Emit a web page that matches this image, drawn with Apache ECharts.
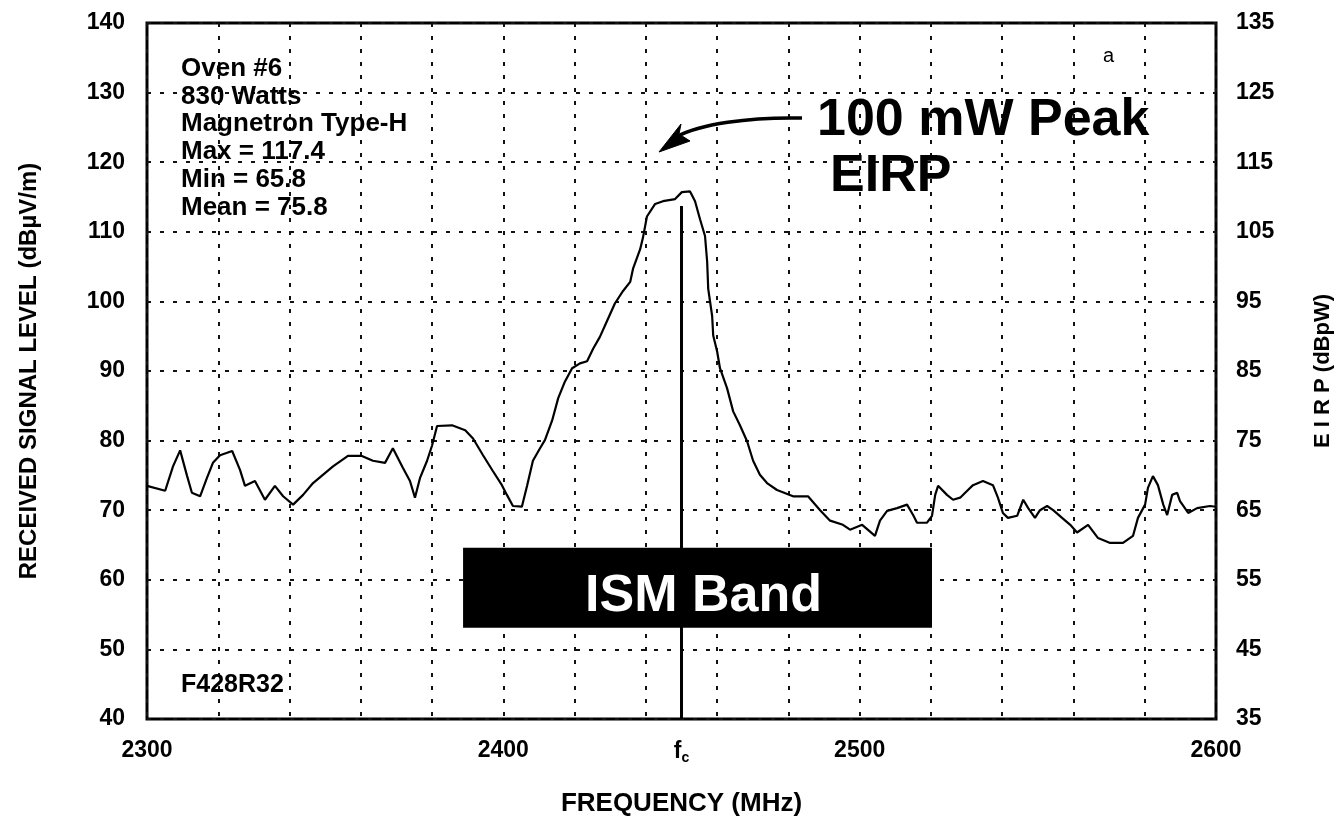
<!DOCTYPE html>
<html>
<head>
<meta charset="utf-8">
<script src="https://cdn.jsdelivr.net/npm/echarts@6/dist/echarts.min.js"></script>
<style>
html,body{margin:0;padding:0;background:#fff;}
#chart{width:1344px;height:822px;}
</style>
</head>
<body>
<div id="chart"></div>
<script>
// ---- data ----
const freq = [
  2300, 2305.1, 2307.3, 2309.3, 2311.2, 2312.6, 2314.9, 2316.8, 2318.5, 2320.5,
  2323.9, 2326.1, 2327.5, 2330.3, 2333.1, 2335.9, 2338.2, 2341.0, 2343.8, 2346.6,
  2352.2, 2356.4, 2360.3, 2363.4, 2366.8, 2369.0, 2371.8, 2373.8, 2375.2, 2376.6,
  2378.6, 2380.0, 2381.4, 2385.6, 2389.3, 2391.5, 2394.3, 2397.1, 2399.6,
  2401.0, 2402.7, 2405.2, 2406.7, 2408.3, 2410.3, 2411.7, 2413.7, 2415.4, 2417.3,
  2419.3, 2421.5, 2423.5, 2425.2, 2427.1, 2428.5, 2431.3, 2433.6, 2435.6, 2436.4,
  2438.4, 2439.2, 2440.3, 2442.6, 2444.8, 2448.2, 2450.1, 2452.4, 2453.8, 2455.2,
  2456.6, 2457.2, 2457.5, 2458.6, 2458.9, 2460.0, 2460.8, 2462.8, 2464.5, 2466.4,
  2468.4, 2470.1, 2472.0, 2474.0, 2476.8,
  2481.3, 2485.5, 2488.9, 2491.7,
  2495.3, 2497.3, 2500.7, 2504.3, 2505.7, 2507.7, 2510.5, 2513.3, 2515.0, 2516.1,
  2518.9, 2520.3, 2521.2, 2522.0, 2524.5, 2526.2, 2528.2, 2530.4, 2531.8, 2534.6,
  2537.4, 2538.8, 2540.2, 2541.6, 2544.2, 2545.9, 2547.3, 2549.2, 2550.6, 2552.6,
  2554.3, 2556.8, 2559.1, 2561.0, 2564.1, 2566.9, 2570.3, 2573.9, 2576.7, 2578.1,
  2580.1, 2580.9, 2582.3, 2583.7, 2585.2, 2586.3, 2587.7, 2589.1, 2589.9, 2592.2,
  2594.7, 2598.3, 2600
];
const level = [
  73.5, 72.8, 76.3, 78.6, 75.0, 72.5, 72.0, 74.6, 76.8, 77.9,
  78.5, 75.8, 73.5, 74.2, 71.5, 73.5, 72.0, 70.8, 72.2, 73.9,
  76.3, 77.8, 77.8, 77.1, 76.8, 78.9, 76.1, 74.2, 71.8, 74.6,
  77.1, 79.3, 82.1, 82.2, 81.5, 80.3, 77.9, 75.6, 73.6,
  72.2, 70.6, 70.5, 73.6, 77.1, 78.9, 80.1, 82.9, 86.1, 88.5,
  90.4, 91.1, 91.4, 93.2, 94.9, 96.5, 99.7, 101.5, 102.8, 104.7,
  107.5, 109.2, 112.2, 114.0, 114.4, 114.7, 115.7, 115.8, 114.4, 111.8,
  109.4, 105.7, 101.8, 97.9, 95.1, 92.8, 90.4, 87.5, 84.2, 82.2,
  79.9, 77.1, 75.1, 73.9, 72.9,
  72.0, 72.0, 70.0, 68.5,
  67.9, 67.2, 67.9, 66.3, 68.5, 69.9, 70.3, 70.8, 69.3, 68.2,
  68.2, 69.2, 72.2, 73.5, 72.2, 71.5, 71.8, 72.9, 73.6, 74.2,
  73.6, 71.8, 69.6, 68.9, 69.2, 71.5, 70.3, 68.9, 70.0, 70.6,
  70.0, 68.9, 67.9, 66.8, 67.9, 66.0, 65.3, 65.3, 66.3, 68.9,
  70.8, 73.2, 74.9, 73.6, 70.8, 69.3, 72.2, 72.5, 71.3, 69.6,
  70.3, 70.6, 70.5
];
const xLabelValues = [2300, 2400, 2450, 2500, 2600];
const xLabelTexts = ['2300', '2400', '{f|f}{c|c}', '2500', '2600'];
const fcLine = [2450, 40, 113.7];            // x, from level, to level
const ismBand = [2388.7, 53.1, 2520.3, 64.6]; // x0, y0, x1, y1
const eirpOffset = 5;                         // right axis = left axis - 5
const infoLines = ['Oven #6', '830 Watts', 'Magnetron Type-H', 'Max = 117.4', 'Min = 65.8', 'Mean = 75.8'];

const FONT = "'Liberation Sans', Arial, sans-serif";

const chart = echarts.init(document.getElementById('chart'), null, {renderer: 'canvas'});
const dotted = {color: '#111', width: 2, type: [4, 9]};

const option = {
  backgroundColor: '#fff',
  animation: false,
  grid: {left: 147, right: 128, top: 23, bottom: 100, show: true, borderColor: '#000', borderWidth: 3, backgroundColor: 'transparent'},
  xAxis: [
    {type: 'value', min: 2300, max: 2600, interval: 20,
     axisLine: {show: false}, axisTick: {show: false}, axisLabel: {show: false},
     splitLine: {show: true, lineStyle: dotted}},
    {type: 'value', min: 2300, max: 2600, interval: 50, position: 'bottom',
     axisLine: {show: false}, axisTick: {show: false}, splitLine: {show: false},
     axisLabel: {show: true, margin: 20, color: '#000', fontFamily: FONT, fontWeight: 'bold', fontSize: 23,
       formatter: v => { const i = xLabelValues.indexOf(v); return i >= 0 ? xLabelTexts[i] : ''; },
       rich: {f: {fontFamily: FONT, fontWeight: 'bold', fontSize: 23, color: '#000'},
              c: {fontFamily: FONT, fontWeight: 'bold', fontSize: 14, color: '#000', padding: [12, 0, 0, 0]}}},
     name: 'FREQUENCY (MHz)', nameLocation: 'middle', nameGap: 72,
     nameTextStyle: {fontFamily: FONT, fontWeight: 'bold', fontSize: 26, color: '#000'}}
  ],
  yAxis: [
    {type: 'value', min: 40, max: 140, interval: 10, position: 'left',
     axisLine: {show: false}, axisTick: {show: false},
     splitLine: {show: true, lineStyle: dotted},
     axisLabel: {margin: 22, color: '#000', fontFamily: FONT, fontWeight: 'bold', fontSize: 23},
     name: 'RECEIVED SIGNAL LEVEL (dBµV/m)', nameLocation: 'middle', nameRotate: 90, nameGap: 106,
     nameTextStyle: {fontFamily: FONT, fontWeight: 'bold', fontSize: 24, color: '#000'}},
    {type: 'value', min: 40, max: 140, interval: 10, position: 'right',
     axisLine: {show: false}, axisTick: {show: false}, splitLine: {show: false},
     axisLabel: {margin: 20, color: '#000', fontFamily: FONT, fontWeight: 'bold', fontSize: 23,
       formatter: v => String(v - eirpOffset)},
     name: 'E I R P (dBpW)', nameLocation: 'middle', nameRotate: 90, nameGap: 96,
     nameTextStyle: {fontFamily: FONT, fontWeight: 'bold', fontSize: 22, color: '#000'}}
  ],
  series: [{
    type: 'line', xAxisIndex: 0, yAxisIndex: 0,
    data: freq.map((f, i) => [f, level[i]]),
    symbol: 'none', smooth: false,
    lineStyle: {color: '#000', width: 2.2},
    markLine: {
      silent: true, symbol: ['none', 'none'], label: {show: false},
      lineStyle: {color: '#000', width: 3, type: 'solid'},
      data: [[{coord: [fcLine[0], fcLine[1]]}, {coord: [fcLine[0], fcLine[2]]}]]
    },
    markArea: {
      silent: true,
      itemStyle: {color: '#000', opacity: 1},
      label: {show: true, position: 'inside', offset: [6, 9], color: '#fff',
        fontFamily: FONT, fontWeight: 'bold', fontSize: 52},
      data: [[{name: 'ISM Band', coord: [ismBand[0], ismBand[3]]}, {coord: [ismBand[2], ismBand[1]]}]]
    }
  }],
  graphic: [
    {type: 'text', left: 181, top: 55, z: 10,
     style: {text: infoLines.join('\n'), fontFamily: FONT, fontWeight: 'bold', fontSize: 26, lineHeight: 27.7, fill: '#000'}},
    {type: 'text', left: 1103, top: 46, z: 10,
     style: {text: 'a', fontFamily: FONT, fontSize: 20, fill: '#000'}},
    {type: 'text', left: 181, top: 673, z: 10,
     style: {text: 'F428R32', fontFamily: FONT, fontWeight: 'bold', fontSize: 25, fill: '#000'}},
    {type: 'text', x: 817, y: 121, z: 10,
     style: {text: '100 mW Peak', fontFamily: FONT, fontWeight: 'bold', fontSize: 52, fill: '#000', verticalAlign: 'middle'}},
    {type: 'text', x: 830, y: 177, z: 10,
     style: {text: 'EIRP', fontFamily: FONT, fontWeight: 'bold', fontSize: 52, fill: '#000', verticalAlign: 'middle'}},
    {type: 'bezierCurve', z: 10,
     shape: {x1: 802, y1: 118, cpx1: 748, cpy1: 117, cpx2: 700, cpy2: 124, x2: 676, y2: 137},
     style: {stroke: '#000', lineWidth: 3.5, fill: null}},
    {type: 'polygon', z: 10,
     shape: {points: [[659, 152], [681, 124], [679, 134], [690, 141]]},
     style: {fill: '#000', stroke: '#000', lineWidth: 1}}
  ]
};
chart.setOption(option);
</script>
</body>
</html>
